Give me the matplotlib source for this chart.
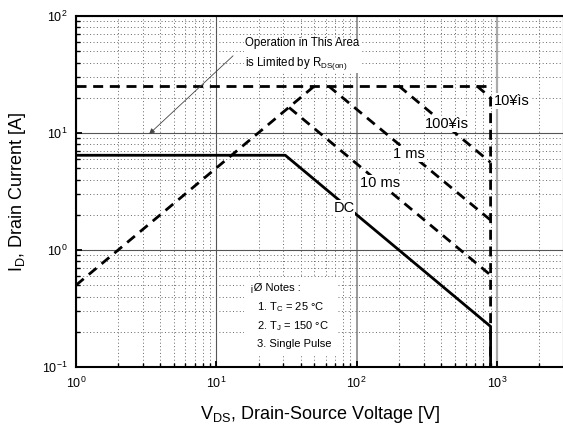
import matplotlib
matplotlib.use("Agg")
import matplotlib.pyplot as plt
from matplotlib.patches import Rectangle

plt.rcParams['font.family'] = ['Liberation Sans', 'DejaVu Sans']
plt.rcParams['mathtext.fontset'] = 'custom'
plt.rcParams['mathtext.rm'] = 'Liberation Sans'
plt.rcParams['mathtext.it'] = 'Liberation Sans'
plt.rcParams['mathtext.default'] = 'regular'

# ---- data ----
v_limit = [1, 900]
i_limit = [25.2, 25.2]
v_rds = [1, 50]
i_rds = [0.5, 25.2]
v_10us = [720, 900, 900]
i_10us = [25.2, 20, 0.1]
v_100us = [200, 900]
i_100us = [25.2, 5.6]
v_1ms = [63, 900]
i_1ms = [25.2, 1.8]
v_10ms = [33, 900]
i_10ms = [16.5, 0.61]
v_dc = [1, 31, 900, 900]
i_dc = [6.45, 6.45, 0.222, 0.1]

curve_labels = ["10¥ìs", "100¥ìs", "1 ms", "10 ms", "DC"]
label_v = [953, 441, 236, 147, 81.3]
label_i = [18.8, 11.9, 6.62, 3.74, 2.29]

fig = plt.figure(figsize=(5.63, 4.32), dpi=100)
ax = fig.add_axes([0.135, 0.1505, 0.8667, 0.8125])
ax.set_xscale('log')
ax.set_yscale('log')
ax.set_xlim(1, 3000)
ax.set_ylim(0.1, 100)

# grid
ax.grid(which='minor', color='#666666', linestyle=(0, (1, 2.5)), linewidth=0.7)
ax.grid(which='major', color='#555555', linestyle='-', linewidth=0.8)
ax.set_axisbelow(True)
fig.canvas.draw()
for gl, loc in zip(ax.xaxis.get_gridlines(), ax.xaxis.get_majorticklocs()):
    if abs(loc - 100) < 1e-6:
        gl.set_color('#888888'); gl.set_linewidth(1.2)
    if abs(loc - 1000) < 1e-6:
        gl.set_color('#aaaaaa'); gl.set_linewidth(1.6)

dash = (0, (3.6, 2.4))
lw = 2.0
ax.plot(v_limit, i_limit, color='black', lw=lw, linestyle=dash, zorder=3)
ax.plot(v_rds, i_rds, color='black', lw=lw, linestyle=dash, zorder=3)
ax.plot(v_10us, i_10us, color='black', lw=lw, linestyle=dash, zorder=3)
ax.plot(v_100us, i_100us, color='black', lw=lw, linestyle=dash, zorder=3)
ax.plot(v_1ms, i_1ms, color='black', lw=lw, linestyle=dash, zorder=3)
ax.plot(v_10ms, i_10ms, color='black', lw=lw, linestyle=dash, zorder=3)
ax.plot(v_dc, i_dc, color='black', lw=lw, linestyle='-', zorder=3)

for k, (t, x, y) in enumerate(zip(curve_labels, label_v, label_i)):
    ha = 'left' if k == 0 else 'center'
    ax.text(x, y, t, fontsize=10.5, ha=ha, va='center', zorder=4,
            bbox=dict(facecolor='white', edgecolor='none', pad=0.5))

# annotation
ax.text(16, 46.9, "Operation in This Area\nis Limited by R$_{\\rm DS(on)}$",
        fontsize=8.3, ha='left', va='center', linespacing=1.5, zorder=4,
        bbox=dict(facecolor='white', edgecolor='none', pad=1))
ax.annotate("", xy=(3.21, 9.43), xytext=(13.6, 47.4),
            arrowprops=dict(arrowstyle='-|>', color='#444444', lw=0.6,
                            mutation_scale=8), zorder=4)

# notes
ax.add_patch(Rectangle((0.345, 0.03), 0.19, 0.225, transform=ax.transAxes,
                       facecolor='white', edgecolor='none', zorder=2))
ax.text(0.357, 0.225, "¡Ø Notes :", transform=ax.transAxes, fontsize=8,
        ha='left', va='center', zorder=4)
ax.text(0.371, 0.171, "1. T$_C$ = 25 °C", transform=ax.transAxes, fontsize=8,
        ha='left', va='center', zorder=4)
ax.text(0.371, 0.117, "2. T$_J$ = 150 °C", transform=ax.transAxes, fontsize=8,
        ha='left', va='center', zorder=4)
ax.text(0.371, 0.066, "3. Single Pulse", transform=ax.transAxes, fontsize=8,
        ha='left', va='center', zorder=4)

# axes style
for s in ax.spines.values():
    s.set_linewidth(1.5)
ax.tick_params(which='both', direction='in', labelsize=9)
ax.tick_params(which='major', length=4, width=1.3, pad=6)
ax.tick_params(which='minor', length=3, width=1.0)

ax.set_xlabel("V$_{DS}$, Drain-Source Voltage [V]", fontsize=13, labelpad=10)
ax.set_ylabel("I$_D$, Drain Current [A]", fontsize=13, labelpad=10)

fig.savefig("out.png", dpi=100)
